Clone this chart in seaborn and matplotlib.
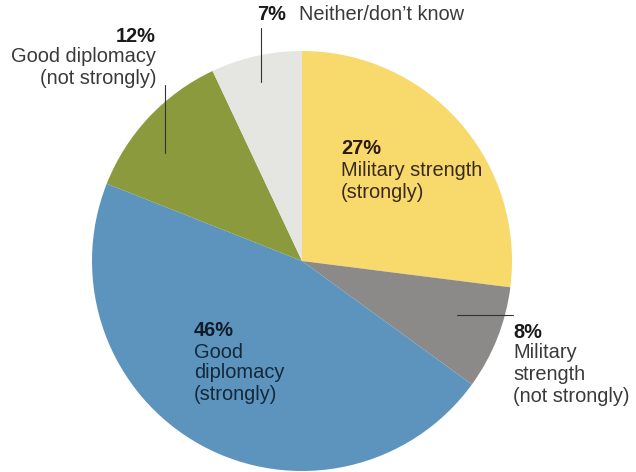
import matplotlib
matplotlib.use("Agg")
import matplotlib.pyplot as plt
import seaborn as sns

sns.set_style("white")
plt.rcParams['font.family'] = ['Liberation Sans', 'DejaVu Sans']

# Data
categories = ["Military strength (strongly)", "Military strength (not strongly)",
              "Good diplomacy (strongly)", "Good diplomacy (not strongly)",
              "Neither/don't know"]
values = [27, 8, 46, 12, 7]
colors = ["#F7D96C", "#8B8A88", "#5D94BD", "#8A9A3C", "#E5E5E1"]

W, H = 636, 472
fig = plt.figure(figsize=(W / 100, H / 100), dpi=100)
ax = fig.add_axes([0, 0, 1, 1])

cx, cy, r = 302, H - 261, 210
ax.pie(values, colors=colors, startangle=90, counterclock=False,
       center=(cx, cy), radius=r, frame=True,
       wedgeprops=dict(linewidth=0))
ax.set_xlim(0, W)
ax.set_ylim(0, H)
ax.axis("off")


def Y(y):
    return H - y


fs = 14.4
gray_txt = "#3a3a3a"


def block(x, ys, pct, lines, ha, color, pcolor="#1a1a1a"):
    ax.text(x, Y(ys[0]), f"{pct}%", ha=ha, va="center", fontsize=fs,
            fontweight="bold", color=pcolor)
    for yy, ln in zip(ys[1:], lines):
        ax.text(x, Y(yy), ln, ha=ha, va="center", fontsize=fs, color=color)


# 12% label (right aligned)
block(156, [37, 57, 78], values[3], ["Good diplomacy", "(not strongly)"], "right", gray_txt)
ax.plot([165, 165], [Y(85), Y(153)], color="#333333", lw=0.8)

# 7% label
ax.text(257, Y(15), f"{values[4]}%", ha="left", va="center", fontsize=fs,
        fontweight="bold", color="#1a1a1a")
ax.text(299, Y(15), "Neither/don’t know", ha="left", va="center", fontsize=fs, color=gray_txt)
ax.plot([261, 261], [Y(28), Y(82)], color="#333333", lw=0.8)

# 27% label
block(341, [149, 171, 192], values[0], ["Military strength", "(strongly)"], "left",
      "#3b2a1c", pcolor="#2a1a10")

# 46% label
block(194, [331, 352, 373, 395], values[2], ["Good", "diplomacy", "(strongly)"], "left",
      "#15283a", pcolor="#0f1c2a")

# 8% label
block(513, [332, 353, 375, 397], values[1], ["Military", "strength", "(not strongly)"], "left",
      gray_txt)
ax.plot([457, 513], [Y(315), Y(315)], color="#333333", lw=0.8)

fig.savefig("out.png", dpi=100)
